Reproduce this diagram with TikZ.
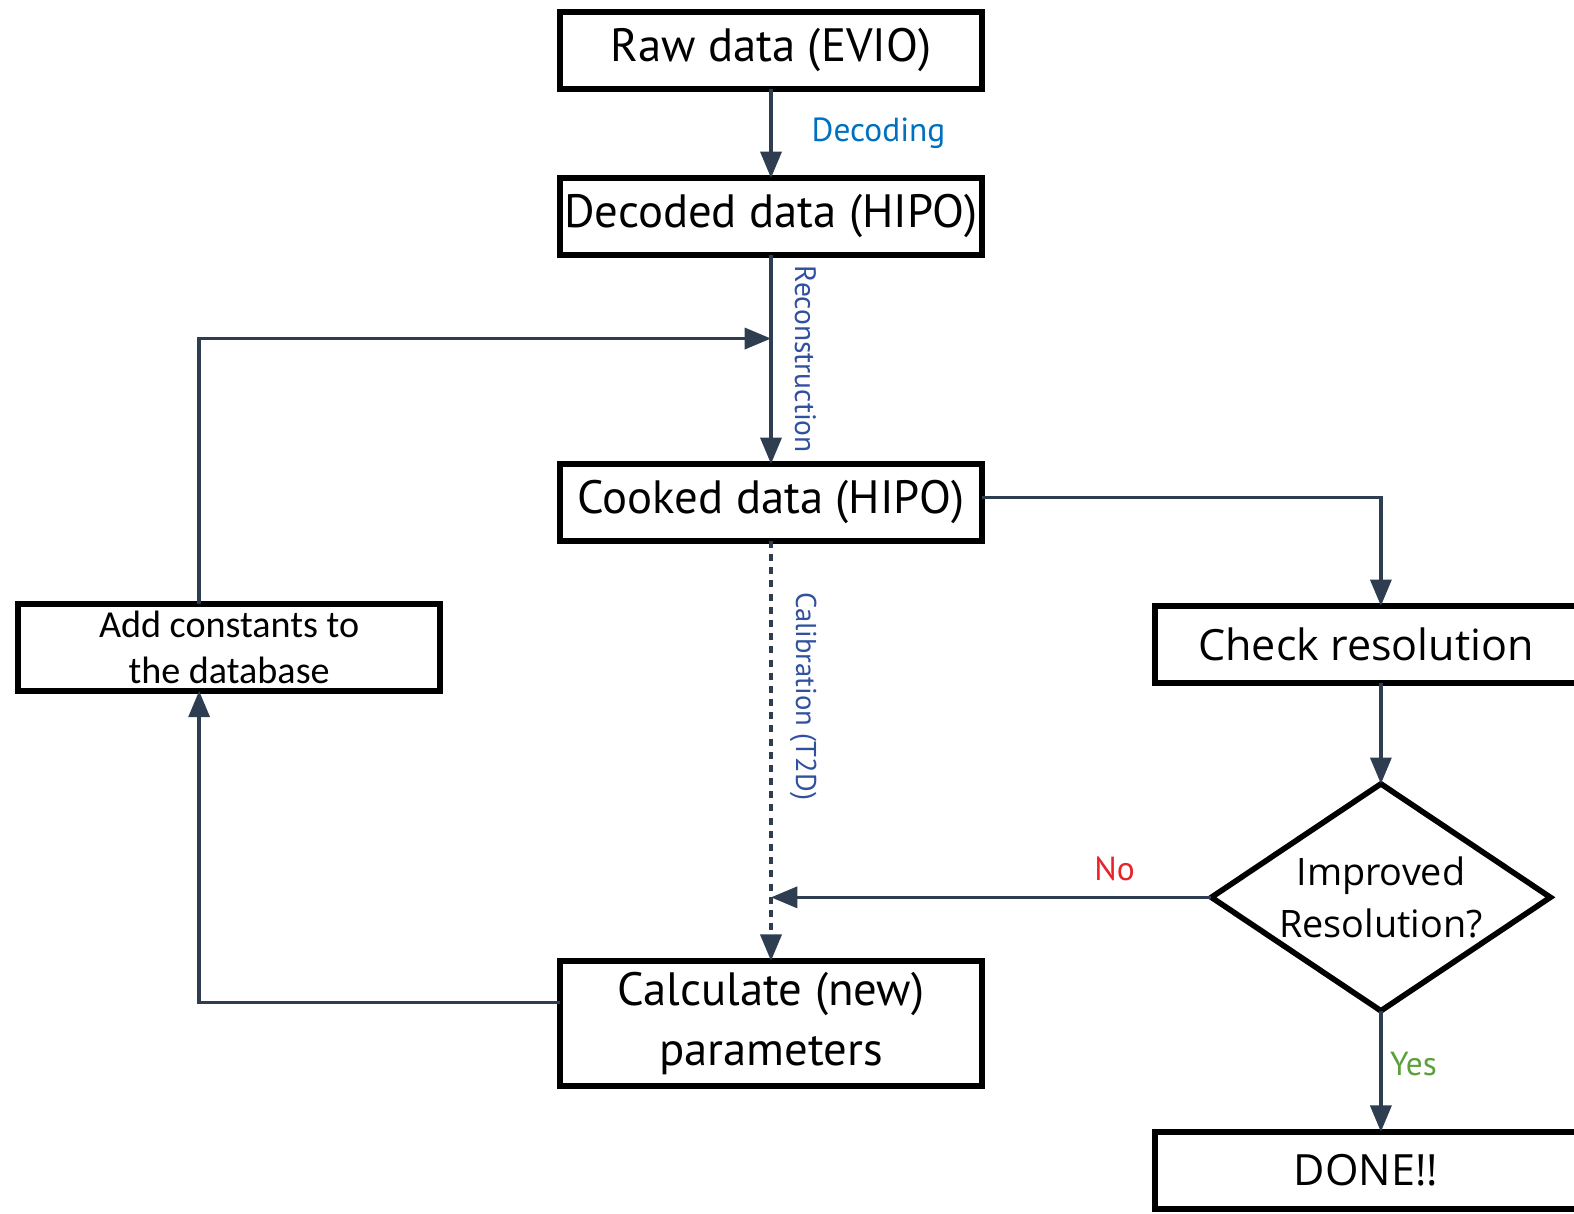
\documentclass[tikz,border=0pt]{standalone}
\usepackage{fontspec}
\setmainfont{PT Sans}
\newfontfamily\opensans{Open Sans}
\newfontfamily\carlito{Carlito}
\usetikzlibrary{arrows.meta,positioning,shapes.geometric,calc}
\definecolor{linecol}{HTML}{2E3E50}
\definecolor{decodeblue}{HTML}{0070C0}
\definecolor{recoblue}{HTML}{3050A0}
\definecolor{nored}{HTML}{E8212B}
\definecolor{yesgreen}{HTML}{5BA03A}

\begin{document}
\begin{tikzpicture}[x=0.02cm, y=-0.02cm,
                    box/.style={draw, rectangle, line width=3.2pt, minimum width=8.44cm, minimum height=1.54cm,
                                inner sep=0pt, outer sep=0pt, text centered, font=\fontsize{26.6}{30}\selectfont},
                    decision/.style={draw, diamond, line width=3.2pt, aspect=1.49, minimum width=6.78cm, minimum height=4.54cm,
                                inner sep=0pt, outer sep=0pt, align=center, font=\opensans\fontsize{21.5}{30}\selectfont},
                    line/.style={draw, line width=1.9pt, color=linecol, -{Triangle[length=15pt, width=12pt]}},
                    tag/.style={inner sep=0pt, font=\fontsize{19}{22}\selectfont}]
    \useasboundingbox (0,0) rectangle (1574,1213);
    % Nodes
    \node [box]                                            (raw)     at (771,50.5) {Raw data (EVIO)};
    \node [box, below=1.78cm of raw]                       (decoded) {Decoded data (HIPO)};
    \node [box, below=4.18cm of decoded]                   (cooked)  {Cooked data (HIPO)};
    \node [box, below=8.4cm of cooked, minimum height=2.5cm, align=center,
           font=\fontsize{26.6}{34}\selectfont]            (calc)    {Calculate (new)\\parameters};
    \node [box, below left=1.26cm and 2.4cm of cooked, minimum height=1.74cm, align=center,
           font=\carlito\fontsize{21.7}{26}\selectfont]    (add)     {Add constants to\\the database};
    \node [box, below right=1.3cm and 3.46cm of cooked,
           font=\opensans\fontsize{24.5}{28}\selectfont]   (check)   {Check resolution};
    \node [decision, below=2.02cm of check, xshift=0.3cm]  (decide)  {Improved\\Resolution?};
    \node [box, below=2.42cm of decide, xshift=-0.3cm,
           font=\opensans\fontsize{24.5}{28}\selectfont]   (done)    {DONE!!};

    % Paths
    \path [line] (raw) -- node [tag, midway, right=0.78cm, text=decodeblue] {Decoding} (decoded);
    \path [line] (decoded) -- node [tag, midway, xshift=0.48cm, rotate=-90, anchor=base, text=recoblue,
                                    font=\fontsize{16.8}{18}\selectfont] {Reconstruction} (cooked);
    \path [line] ([xshift=-0.6cm]add.north) |- ($(decoded.south)!0.4!(cooked.north)$);
    \path [line] ([yshift=0.1cm]cooked.east) -| ([xshift=0.3cm]check.north);
    \path [line] ([xshift=0.3cm]check.south) -- (decide.north);
    \path [line] (decide.west) -- node [tag, pos=0.22, above=0.3cm, text=nored] {No} (decide.west -| calc.north);
    \path [line, dash pattern=on 4pt off 3.5pt] (cooked) -- node [tag, pos=0.37, xshift=0.5cm, rotate=-90, anchor=base,
                                    text=recoblue, font=\fontsize{16.3}{18}\selectfont] {Calibration (T2D)} (calc);
    \path [line] (decide.south) -- node [tag, pos=0.44, right=0.15cm, text=yesgreen] {Yes} ([xshift=0.3cm]done.north);
    \path [line] ([yshift=0.42cm]calc.west) -| ([xshift=-0.6cm]add.south);
\end{tikzpicture}
\end{document}
